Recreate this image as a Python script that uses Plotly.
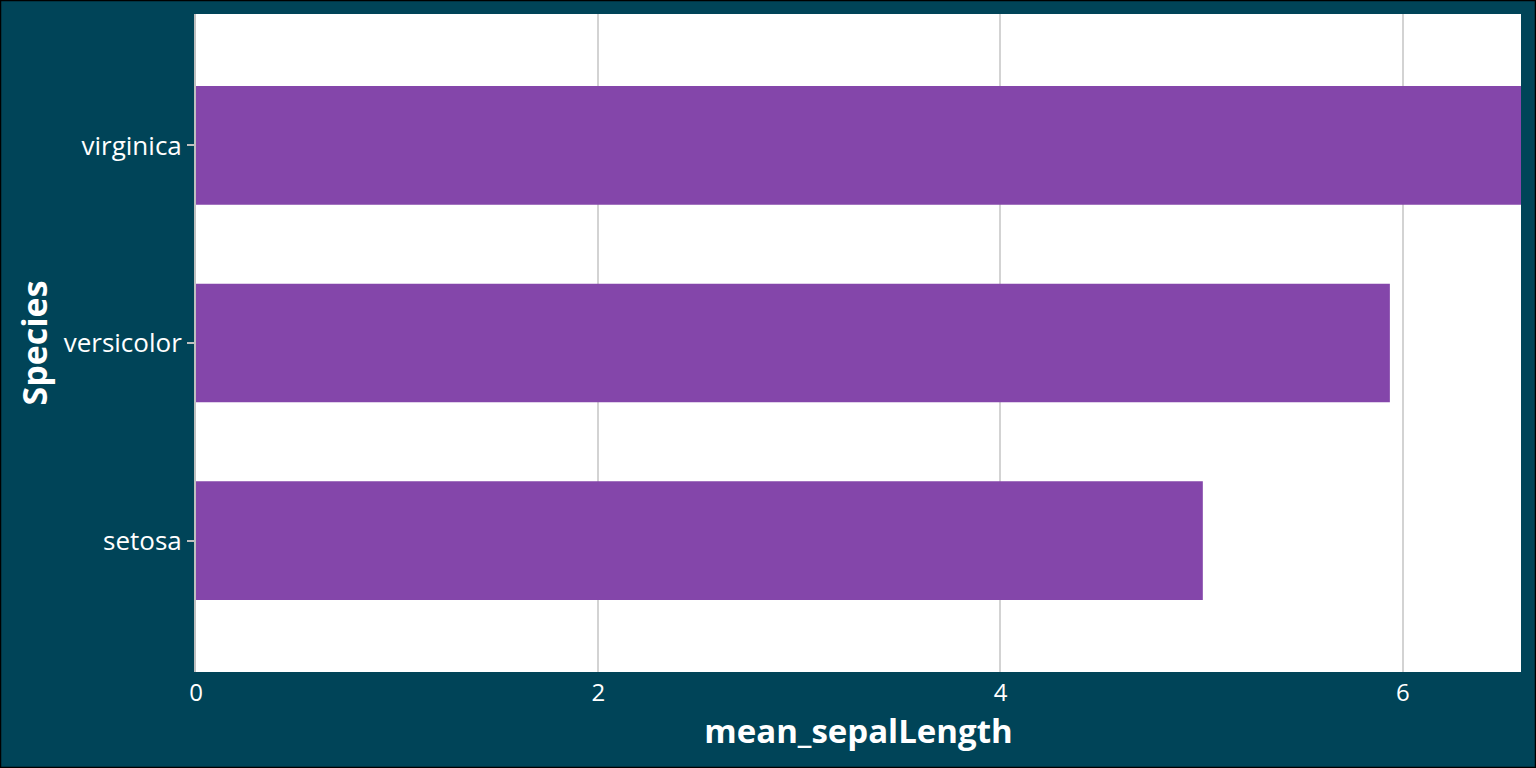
import plotly.graph_objects as go

species = ["setosa", "versicolor", "virginica"]
mean_sepal_length = [5.006, 5.936, 6.588]
x_ticks = [0, 2, 4, 6]

W, H = 1536, 768
ml, mr, mt, mb = 196, 15, 14, 96
pw, ph = W - ml - mr, H - mt - mb

fig = go.Figure(go.Bar(
    y=species, x=mean_sepal_length, orientation="h",
    marker=dict(color="#8446AA", line=dict(width=0)), width=0.6,
))

font = "Open Sans, Lato, sans-serif"
fig.update_layout(
    width=W, height=H,
    margin=dict(l=ml, r=mr, t=mt, b=mb),
    paper_bgcolor="#004458", plot_bgcolor="white",
    font=dict(family=font, color="white", size=22),
    showlegend=False,
    xaxis=dict(
        range=[0, max(mean_sepal_length)], tickvals=x_ticks,
        showgrid=True, gridcolor="#d3d3d3", gridwidth=2,
        zeroline=False, showline=False, ticks="",
        tickfont=dict(size=24, color="white"), ticklabelstandoff=4,
        title=dict(text="<b>mean_sepalLength</b>", font=dict(size=33, color="white"), standoff=6),
        fixedrange=True,
    ),
    yaxis=dict(
        range=[-0.665, 2.665], categoryorder="array", categoryarray=species,
        showgrid=False, zeroline=False,
        showline=True, linecolor="#bfbfbf", linewidth=2,
        ticks="outside", ticklen=7, tickwidth=1.5, tickcolor="#bfbfbf",
        tickfont=dict(size=26, color="white"), ticklabelstandoff=0,
        title=dict(text="<b>Species</b>", font=dict(size=34, color="white"), standoff=6),
        fixedrange=True,
    ),
    shapes=[dict(
        type="rect", xref="paper", yref="paper",
        x0=-ml / pw + 0.5 / pw, x1=1 + mr / pw - 0.5 / pw,
        y0=-mb / ph + 0.5 / ph, y1=1 + mt / ph - 0.5 / ph,
        line=dict(color="black", width=1.5), layer="above",
    )],
)

fig.write_html("out.html", config={"displayModeBar": False})
